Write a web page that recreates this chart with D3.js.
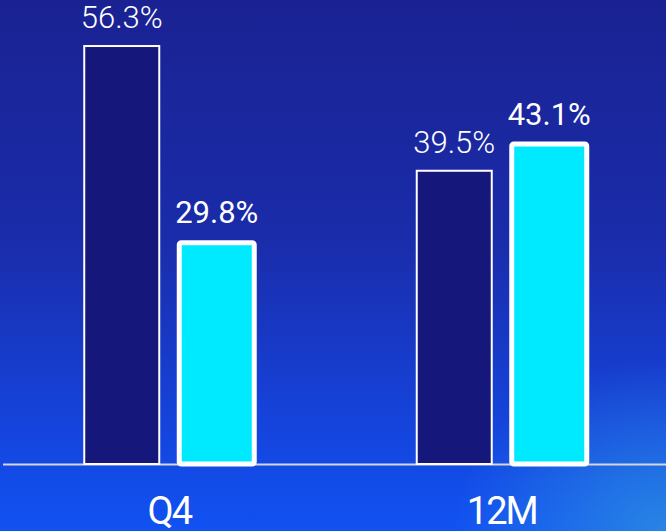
<!DOCTYPE html>
<html>
<head>
<meta charset="utf-8">
<script src="https://cdn.jsdelivr.net/npm/d3@7"></script>
<style>
  html, body { margin: 0; padding: 0; background: #1a2496; }
  svg { display: block; }
</style>
</head>
<body>
<svg id="chart" width="666" height="531"></svg>
<script>
// Period categories and the two compared series
const categories = ["Q4", "12M"];
const seriesNames = ["prior", "current"];
const priorValues = [56.3, 39.5];
const currentValues = [29.8, 43.1];

const W = 666, H = 531;
const svg = d3.select("#chart");

// Background: deep navy at the top fading to bright blue, with a soft glow bottom-right
const defs = svg.append("defs");
const lin = defs.append("linearGradient").attr("id", "bg").attr("x1", 0).attr("y1", 0).attr("x2", 0).attr("y2", 1);
lin.append("stop").attr("offset", "0%").attr("stop-color", "#1a2292");
lin.append("stop").attr("offset", "45%").attr("stop-color", "#1a2caa");
lin.append("stop").attr("offset", "80%").attr("stop-color", "#1544dc");
lin.append("stop").attr("offset", "100%").attr("stop-color", "#1152f2");
const rad = defs.append("radialGradient").attr("id", "glow")
  .attr("cx", 1).attr("cy", 1).attr("r", 0.32);
rad.append("stop").attr("offset", "0%").attr("stop-color", "#2c8ee2").attr("stop-opacity", 0.85);
rad.append("stop").attr("offset", "100%").attr("stop-color", "#2c8ee2").attr("stop-opacity", 0);

svg.append("rect").attr("width", W).attr("height", H).attr("fill", "url(#bg)");
svg.append("rect").attr("width", W).attr("height", H).attr("fill", "url(#glow)");

// Scales
const x0 = d3.scaleBand().domain(categories).range([3, 668]).padding(0);
const x1 = d3.scaleBand().domain(seriesNames)
  .range([x0.bandwidth() / 2 - 85, x0.bandwidth() / 2 + 85])
  .paddingInner(20 / 95).paddingOuter(0);
const y = d3.scaleLinear().domain([0, 62.5]).range([464, 0]);

const rows = categories.map((c, i) => ({
  cat: c,
  vals: [
    { key: "prior", v: priorValues[i] },
    { key: "current", v: currentValues[i] }
  ]
}));

// Baseline
svg.append("line")
  .attr("x1", 3).attr("x2", W)
  .attr("y1", y(0) + 0.5).attr("y2", y(0) + 0.5)
  .attr("stroke", "#d6d6dc").attr("stroke-width", 2);

const style = {
  prior:   { fill: "#16177a", stroke: "#ffffff", sw: 2, rx: 0, weight: 300 },
  current: { fill: "#00eaff", stroke: "#ffffff", sw: 5, rx: 2, weight: 400 }
};

const groups = svg.selectAll("g.grp").data(rows).join("g")
  .attr("class", "grp")
  .attr("transform", d => `translate(${x0(d.cat)},0)`);

groups.selectAll("rect.bar").data(d => d.vals).join("rect")
  .attr("class", "bar")
  .attr("x", d => x1(d.key))
  .attr("width", x1.bandwidth())
  .attr("y", d => y(d.v))
  .attr("height", d => y(0) - y(d.v))
  .attr("rx", d => style[d.key].rx)
  .attr("fill", d => style[d.key].fill)
  .attr("stroke", d => style[d.key].stroke)
  .attr("stroke-width", d => style[d.key].sw);

groups.selectAll("text.val").data(d => d.vals).join("text")
  .attr("class", "val")
  .attr("x", d => x1(d.key) + x1.bandwidth() / 2)
  .attr("y", d => y(d.v) - 17 - style[d.key].sw / 2)
  .attr("text-anchor", "middle")
  .attr("fill", "#ffffff")
  .attr("font-family", "Roboto, 'Liberation Sans', sans-serif")
  .attr("font-size", 31)
  .attr("font-weight", d => style[d.key].weight)
  .text(d => d.v.toFixed(1) + "%");

// Category labels
svg.selectAll("text.cat").data(categories).join("text")
  .attr("class", "cat")
  .attr("x", d => x0(d) + x0.bandwidth() / 2)
  .attr("y", 524)
  .attr("text-anchor", "middle")
  .attr("fill", "#ffffff")
  .attr("font-family", "Roboto, 'Liberation Sans', sans-serif")
  .attr("font-size", 38)
  .attr("font-weight", 400)
  .attr("letter-spacing", -2)
  .text(d => d);
</script>
</body>
</html>
